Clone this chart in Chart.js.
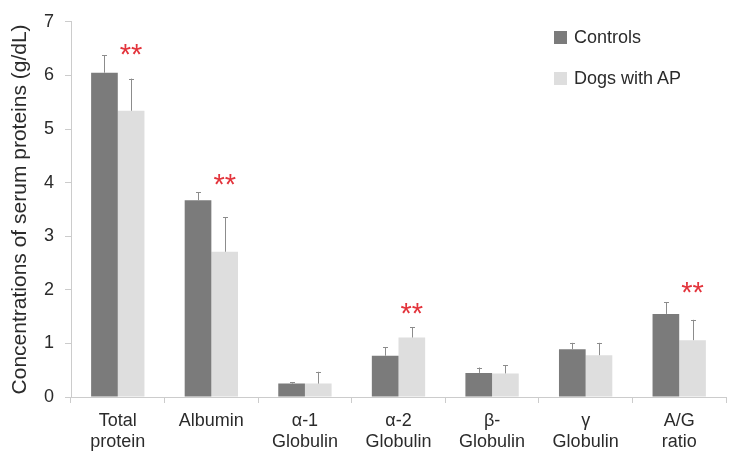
<!DOCTYPE html>
<html>
<head>
<meta charset="utf-8">
<script src="https://cdn.jsdelivr.net/npm/chart.js@4/dist/chart.umd.min.js"></script>
<style>
  body { margin: 0; background: #fff; font-family: "Liberation Sans", Arial, sans-serif; }
  #wrap { position: relative; width: 742px; height: 464px; }
  .leg { position: absolute; left: 554px; font-size: 18px; color: #2b2b2b; line-height: 20px; }
  .leg span { display: inline-block; width: 13px; height: 13px; margin-right: 7px; vertical-align: -1px; }
</style>
</head>
<body>
<div id="wrap">
  <canvas id="proteinChart" width="742" height="464"></canvas>
  <div class="leg" style="top:27px"><span style="background:#7b7b7b"></span>Controls</div>
  <div class="leg" style="top:68px"><span style="background:#dedede"></span>Dogs with AP</div>
</div>
<script>
// values (mean and upper SD)
const categories = [['Total', 'protein'], ['Albumin'], ['α-1', 'Globulin'], ['α-2', 'Globulin'], ['β-', 'Globulin'], ['γ', 'Globulin'], ['A/G', 'ratio']];
const controls = [6.05, 3.67, 0.25, 0.77, 0.45, 0.89, 1.55];
const controlsSD = [0.33, 0.15, 0.03, 0.16, 0.10, 0.12, 0.22];
const dogsAP = [5.34, 2.71, 0.25, 1.11, 0.44, 0.78, 1.06];
const dogsAPSD = [0.60, 0.64, 0.22, 0.19, 0.15, 0.23, 0.38];
// significance marks (** above AP bar), level in axis units
const sigMark = ['**', '**', '', '**', '', '', '**'];
const sigLevel = [6.49, 4.06, null, 1.65, null, null, 2.04];
const yTicks = [0, 1, 2, 3, 4, 5, 6, 7];

const errors = [controlsSD, dogsAPSD];

const errorBars = {
  id: 'errorBars',
  afterDatasetsDraw(chart) {
    const c = chart.ctx;
    const y = chart.scales.y;
    chart.data.datasets.forEach((ds, di) => {
      const meta = chart.getDatasetMeta(di);
      meta.data.forEach((bar, i) => {
        const top = y.getPixelForValue(ds.data[i] + errors[di][i]);
        c.save();
        c.strokeStyle = '#8c8c8c';
        c.lineWidth = 1;
        c.beginPath();
        c.moveTo(Math.round(bar.x) + 0.5, bar.y);
        c.lineTo(Math.round(bar.x) + 0.5, top);
        c.moveTo(Math.round(bar.x) - 2, Math.round(top) + 0.5);
        c.lineTo(Math.round(bar.x) + 3, Math.round(top) + 0.5);
        c.stroke();
        c.restore();
      });
    });
  }
};

const stars = {
  id: 'stars',
  afterDatasetsDraw(chart) {
    const c = chart.ctx;
    const y = chart.scales.y;
    const meta = chart.getDatasetMeta(1);
    c.save();
    c.fillStyle = '#e3343c';
    c.font = '29px "Liberation Sans", Arial, sans-serif';
    c.textAlign = 'center';
    c.textBaseline = 'alphabetic';
    sigMark.forEach((m, i) => {
      if (!m) return;
      const tm = c.measureText(m);
      const mid = (tm.actualBoundingBoxAscent - tm.actualBoundingBoxDescent) / 2;
      c.fillText(m, meta.data[i].x, y.getPixelForValue(sigLevel[i]) + mid);
    });
    c.restore();
  }
};

const ctx = document.getElementById('proteinChart');
const proteinChart = new Chart(ctx, {
  type: 'bar',
  data: {
    labels: categories,
    datasets: [{
      label: 'Controls',
      data: controls,
      backgroundColor: '#7b7b7b'
    }, {
      label: 'Dogs with AP',
      data: dogsAP,
      backgroundColor: '#dedede'
    }]
  },
  options: {
    responsive: false,
    animation: false,
    devicePixelRatio: 1,
    categoryPercentage: 0.57,
    barPercentage: 1,
    layout: { padding: { top: 20, right: 16, left: 0, bottom: 0 } },
    plugins: {
      legend: { display: false },
      tooltip: { enabled: false }
    },
    scales: {
      x: {
        grid: { offset: true, drawOnChartArea: false, drawTicks: true, tickLength: 6, color: '#cccccc' },
        border: { color: '#cccccc' },
        ticks: {
          color: '#2b2b2b',
          padding: 7,
          maxRotation: 0,
          font: { family: '"Liberation Sans", Arial, sans-serif', size: 18, lineHeight: 1.2 }
        },
        afterFit(s) { s.height = 67; }
      },
      y: {
        min: 0,
        max: 7,
        afterBuildTicks(s) { s.ticks = yTicks.map(v => ({ value: v })); },
        grid: { drawOnChartArea: false, drawTicks: true, tickLength: 6, color: '#cccccc' },
        border: { color: '#cccccc' },
        ticks: {
          color: '#2b2b2b',
          padding: 11,
          font: { family: '"Liberation Sans", Arial, sans-serif', size: 18 }
        },
        title: {
          display: true,
          text: 'Concentrations of serum proteins (g/dL)',
          color: '#2b2b2b',
          padding: { top: 8, bottom: 0 },
          font: { family: '"Liberation Sans", Arial, sans-serif', size: 21 }
        },
        afterFit(s) { s.width = 71; }
      }
    }
  },
  plugins: [errorBars, stars]
});
</script>
</body>
</html>
